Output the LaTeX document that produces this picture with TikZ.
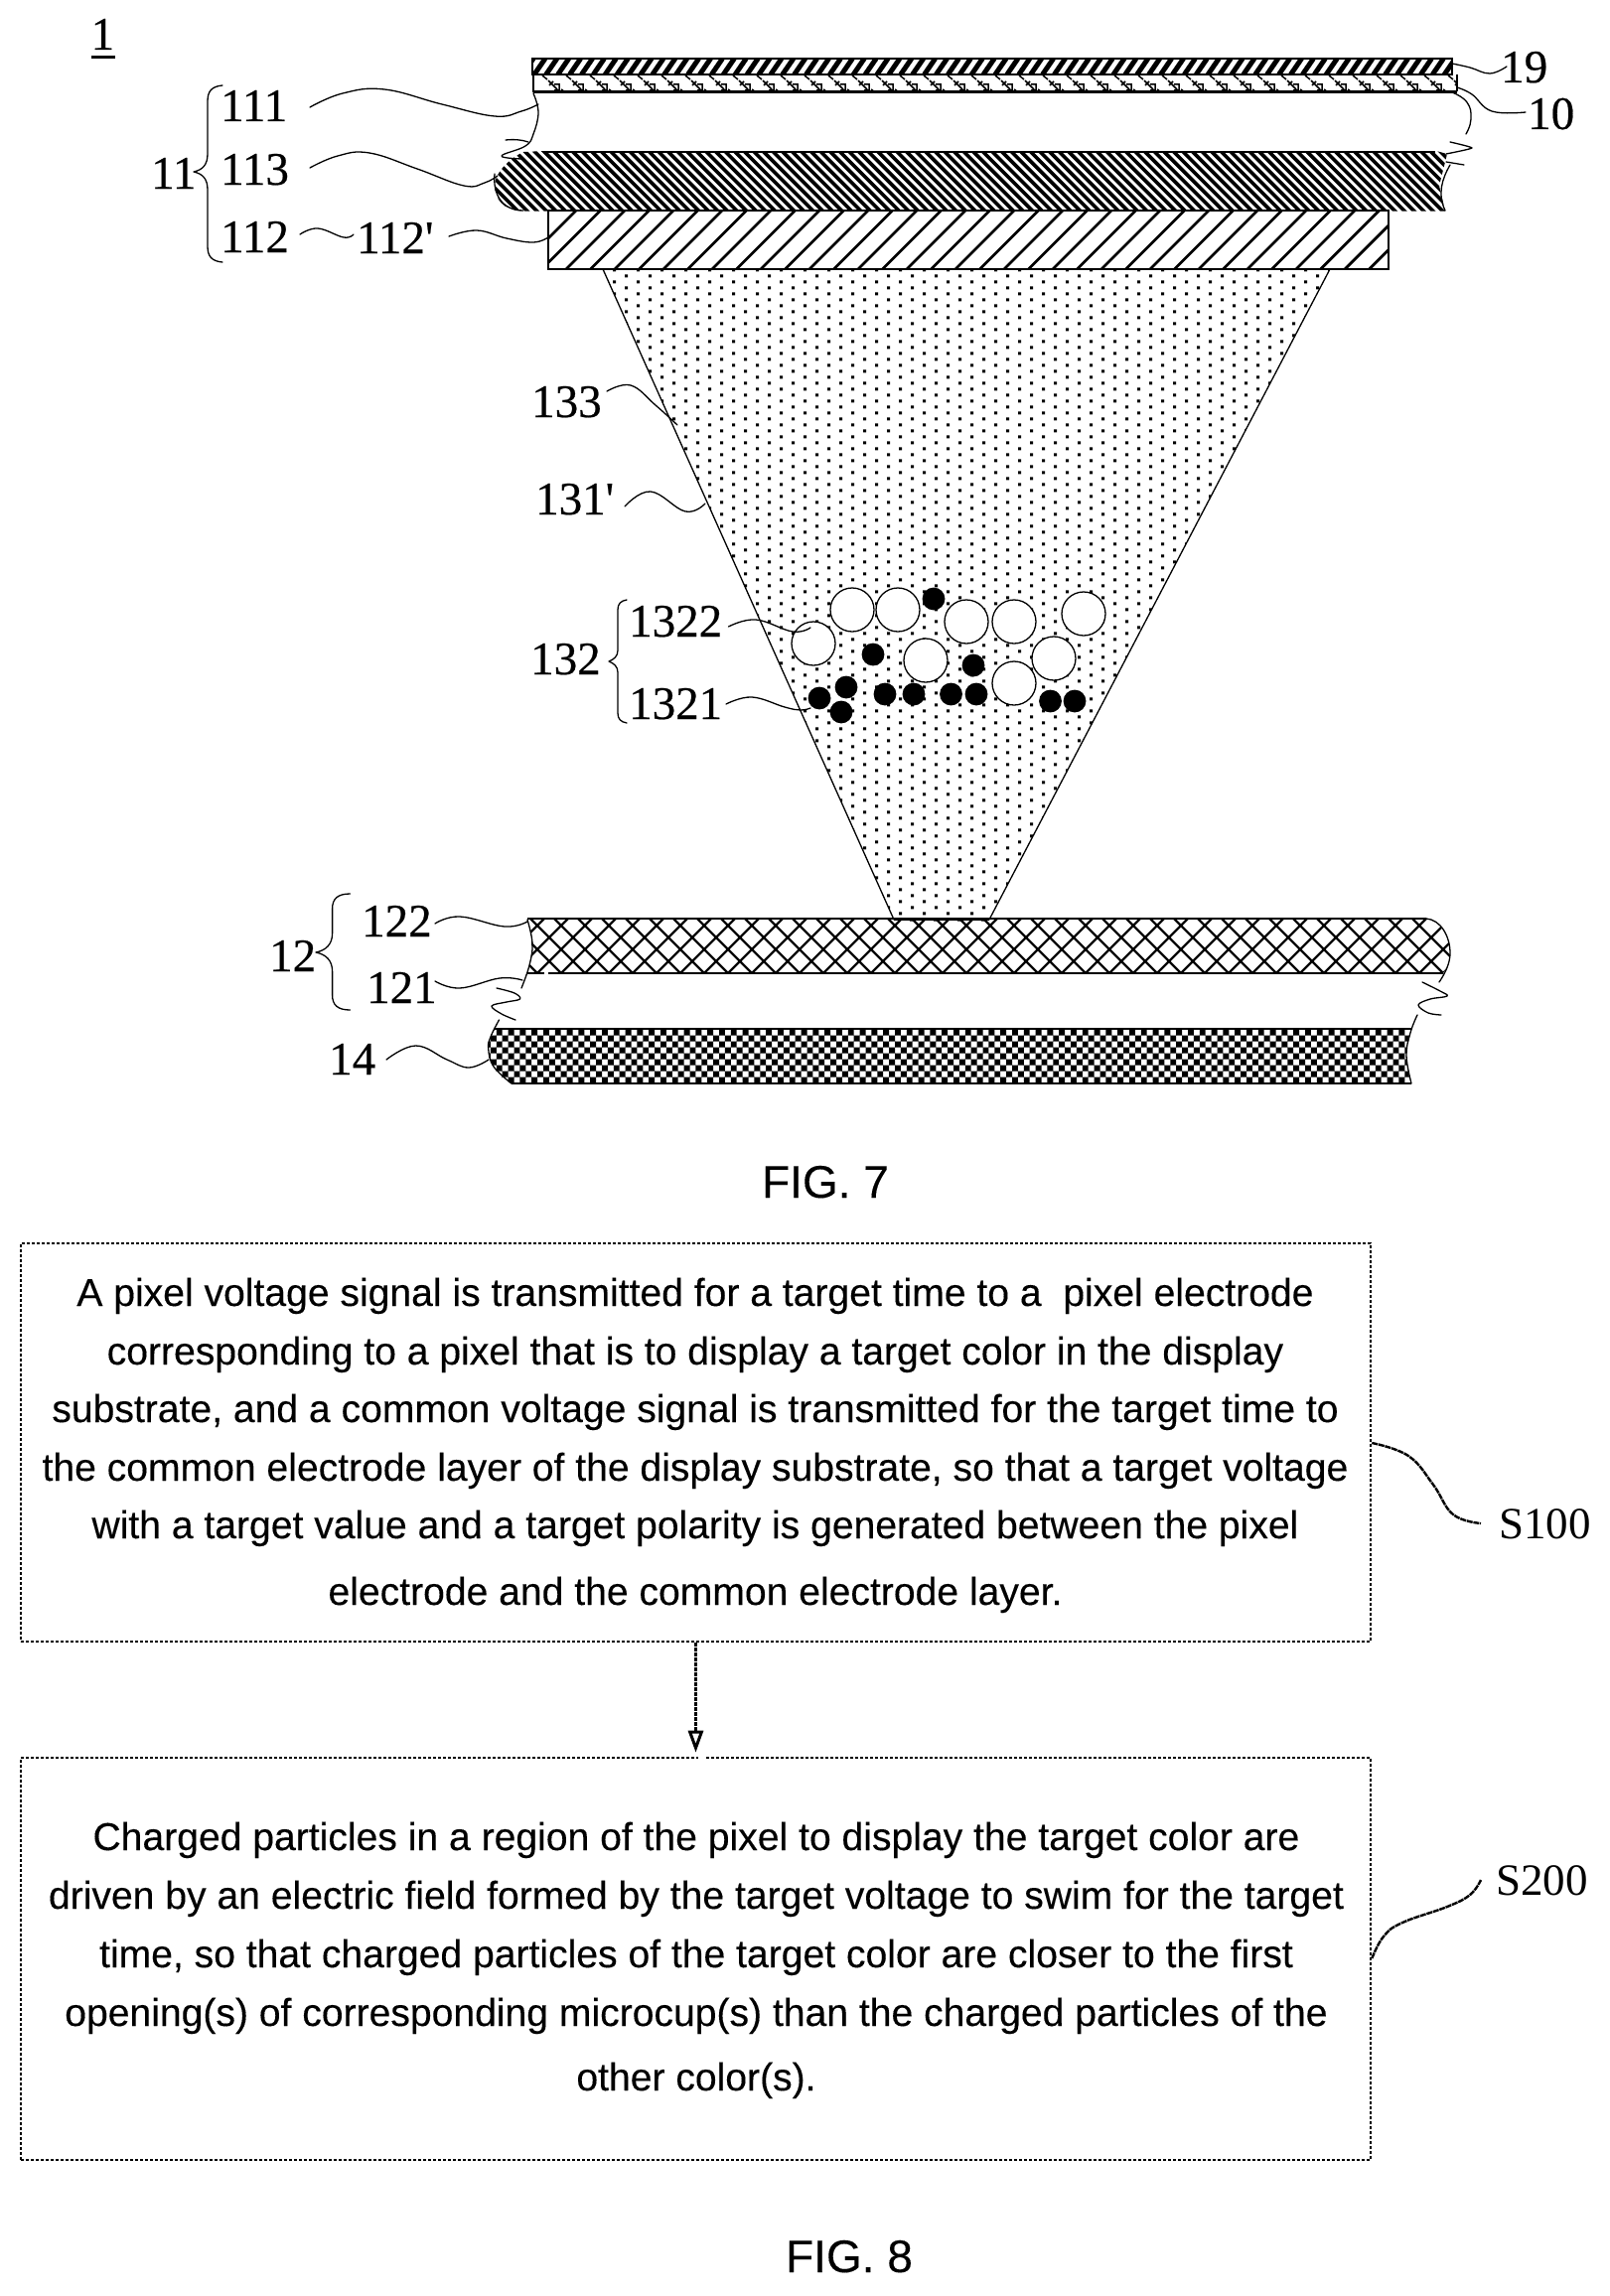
\documentclass[tikz,border=0pt]{standalone}
\usepackage{fontspec}
\usetikzlibrary{arrows.meta}
\newfontfamily\serifnum[AutoFakeBold=0.45]{Liberation Serif}
\newfontfamily\serifplain{Liberation Serif}
\newfontfamily\sanstxt[AutoFakeBold=0.2]{Liberation Sans}
\tikzset{
  num/.style={anchor=base west,inner sep=0pt,font=\serifnum\bfseries\fontsize{47}{47}\selectfont},
  snum/.style={anchor=base west,inner sep=0pt,font=\serifplain\fontsize{45}{45}\selectfont},
  body/.style={anchor=base,inner sep=0pt,font=\sanstxt\bfseries\fontsize{39.1}{40}\selectfont},
  figlab/.style={anchor=base,inner sep=0pt,font=\sanstxt\bfseries\fontsize{46}{46}\selectfont},
  thin line/.style={line width=1.3pt,line join=round,line cap=round},
  boxd/.style={draw,line width=2.6pt,dash pattern=on 3pt off 2pt,inner sep=0pt},
  sline/.style={line width=2.4pt,dash pattern=on 6pt off .8pt},
  lead/.style={thin line},
}
\begin{document}
\begin{tikzpicture}[x=1pt,y=-1pt]
\useasboundingbox (0,0) rectangle (1620,2312);
\fill[white] (0,0) rectangle (1620,2312);

% ---------- layer 19
\begin{scope}
\clip (536,59) rectangle (1462,75);
\draw[line width=5pt] foreach \k in {0,...,80} {({526+11.9*\k},75) -- ({537+11.9*\k},59)};
\end{scope}
\draw[line width=1.6pt] (536,59) rectangle (1462,75);

% ---------- layer 10
\begin{scope}
\clip (537,75) rectangle (1467,92);
\draw[line width=1.5pt] foreach \k in {0,...,38} {
  ({546+24*\k},76) -- ({551+24*\k},80)
  ({552+24*\k},81) -- ({561+24*\k},90)
  ({553+24*\k},86) -- ({557+24*\k},82)
  ({558+24*\k},85) -- ({563+24*\k},85) -- ({563+24*\k},91) -- ({558+24*\k},91)
  ({565+24*\k},90) -- ({567+24*\k},91)
};
\end{scope}
\draw[line width=1.2pt] (537,75) -- (537,93) (1467,75) -- (1467,92);
\draw[line width=2.6pt] (537,92.5) -- (1467,92.5);

% ---------- layer 111 edges
\draw[lead] plot[smooth,tension=.7] coordinates {(537,94) (542,113) (537,135) (529,147) (505,157) (526,160)};
\draw[lead] (509,141) .. controls (518,140) and (526,141) .. (532,143);
\draw[lead] plot[smooth,tension=.8] coordinates {(1462,93) (1477,103) (1481,120) (1476,135)};
\draw[lead] plot[smooth,tension=.3] coordinates {(1460,143) (1482,149) (1456,155)};
\draw[lead] (1456,163) -- (1474,166);

% ---------- layer 113
\begin{scope}
\clip (548,152) -- (1446,152) -- (1457,155) -- (1449,187) -- (1455,212.5) -- (527,212.5)
  .. controls (506,212) and (498,200) .. (498,186) .. controls (498,175) and (512,160) .. (527,153) -- cycle;
\draw[line width=3.6pt] foreach \k in {0,...,108} {({430+9.6*\k},150) -- ({495+9.6*\k},215)};
\end{scope}
\draw[line width=2.6pt] (548,153) -- (1445,153);
\draw[lead] (498,175) .. controls (496,195) and (505,212) .. (527,212);
\draw[lead] (1460,166) .. controls (1452,180) and (1447,195) .. (1455,212);

% ---------- layer 112
\begin{scope}
\clip (552,212) rectangle (1398,271);
\draw[line width=2.8pt] foreach \k in {0,...,38} {({500+24.5*\k},292) -- ({600+24.5*\k},192)};
\end{scope}
\draw[line width=1.5pt] (552,212) rectangle (1398,271);

% ---------- microcup
\begin{scope}
\clip (607,271) -- (1339,271) -- (996,926) -- (900,926) -- cycle;
\fill foreach \i in {1,...,109} { foreach \j in {0,...,31} {
  ({593+24*\j+12*mod(\i+1,2)},{922.8-6*(\i-1)-3+1.5-3}) rectangle +(3,3)}};
\end{scope}
\fill foreach \j in {0,...,3} {({915.8+24*\j},924.5) rectangle +(3,3)};
\draw[thin line] (607,271) -- (900,926) (1339,271) -- (996,926);
\draw[line width=1.5pt] (900,926) -- (996,926);

% ---------- particles
\foreach \p in {(858,614),(904,614),(973,626),(1021,626),(1091,618),(819,648),(932,665),(1061,663),(1021,688)}
  \draw[thin line,fill=white] \p circle (22);
\foreach \p in {(940,603),(879,659),(980,670),(852,692),(825,703),(847,717),(891,699),(920,699),(957.5,699),(983,699),(1057.5,706),(1082,706)}
  \fill \p circle (11.4);

% ---------- layer 122
\begin{scope}
\clip (531,925) -- (1436,925) .. controls (1450,926) and (1460,942) .. (1460,960) .. controls (1460,968) and (1457,975) .. (1453,980) -- (531,980) .. controls (536,965) and (537,945) .. cycle;
\draw[line width=2.2pt] foreach \k in {0,...,42} {
  ({437+24*\k},900) -- ({537+24*\k},1000)
  ({473+24*\k},1000) -- ({573+24*\k},900)
};
\end{scope}
\draw[line width=1.6pt] (531,925) -- (1436,925) (531,980) -- (548,980) (552,980) -- (1453,980);
\draw[lead] (1436,925) .. controls (1450,926) and (1460,942) .. (1460,960) .. controls (1460,970) and (1455,980) .. (1449,989);
\draw[lead] plot[smooth,tension=.7] coordinates {(531,926) (536,950) (533,972) (525,995)};
\draw[lead] plot[smooth,tension=.6] coordinates {(500,995) (518,1000) (523.5,1006) (510,1009) (495,1013) (505,1021) (519,1027)};
\draw[lead] plot[smooth,tension=.6] coordinates {(1432,989) (1450,998) (1457,1003) (1440,1006) (1428,1012) (1438,1020) (1451,1022)};

% ---------- layer 14
\begin{scope}
\clip (497,1036) -- (1421,1036) .. controls (1416,1055) and (1414,1072) .. (1421,1091) -- (515,1091) .. controls (500,1085) and (492,1070) .. (492,1055) .. controls (492,1046) and (495,1040) .. (497,1036) -- cycle;
\fill foreach \i in {0,...,9} { foreach \j in {0,...,81} {
  ({488+11.8*\j+5.9*mod(\i,2)},{1036.5+6*\i}) rectangle +(5.9,6)}};
\end{scope}
\draw[line width=1.4pt] (497,1036) -- (1421,1036);
\draw[lead] plot[smooth,tension=.7] coordinates {(502.5,1027) (494,1044) (491.7,1056) (497,1074) (515,1091)};
\draw[lead] plot[smooth,tension=.7] coordinates {(1427,1022) (1420,1040) (1416,1063) (1421,1091)};
\draw[line width=1.6pt] (515,1091) -- (1421,1091);

% ---------- leaders
\draw[lead] plot[smooth,tension=.7] coordinates {(312,108) (345,94) (387,90) (445,105) (498,117) (525,112) (542,105)};
\draw[lead] plot[smooth,tension=.7] coordinates {(312,169) (340,157) (372,154) (420,170) (467,187) (488,184) (501,177)};
\draw[lead] plot[smooth,tension=.7] coordinates {(302,236) (320,230) (346,239) (356,236)};
\draw[lead] plot[smooth,tension=.7] coordinates {(452,238) (480,232) (510,240) (537,244) (552,239)};
\draw[lead] plot[smooth,tension=.7] coordinates {(1462,64) (1480,68) (1500,74) (1517,67)};
\draw[lead] plot[smooth,tension=.7] coordinates {(1467,88) (1482,95) (1502,112) (1536,113)};
\draw[lead] plot[smooth,tension=.7] coordinates {(611,394) (635,388) (660,408) (682,428)};
\draw[lead] plot[smooth,tension=.7] coordinates {(629,510) (655,495) (690,515) (710,507)};
\draw[lead] plot[smooth,tension=.7] coordinates {(733.5,631) (761,624) (798,636) (816,632)};
\draw[lead] plot[smooth,tension=.7] coordinates {(731,709) (757,702) (790,712) (806,715) (816,713)};
\draw[lead] plot[smooth,tension=.7] coordinates {(438,930) (463,923) (508,933) (531,928)};
\draw[lead] plot[smooth,tension=.7] coordinates {(438,988) (463,995) (503,985) (526,987)};
\draw[lead] plot[smooth,tension=.7] coordinates {(389,1067) (418.6,1053) (450,1067) (472,1075) (492,1067)};

% ---------- braces
\draw[lead] (224,86) .. controls (213,87) and (209,92) .. (209,102) -- (209,155) .. controls (209,166) and (204,171) .. (195,173) .. controls (204,175) and (209,180) .. (209,191) -- (209,248) .. controls (209,258) and (213,263) .. (224,264);
\draw[lead] (631,604) .. controls (625,605) and (622,608) .. (622,614) -- (622,655) .. controls (622,661) and (618,664) .. (613,666) .. controls (618,668) and (622,671) .. (622,677) -- (622,718) .. controls (622,724) and (625,727) .. (631,728);
\draw[lead] (352.5,900) .. controls (340,900) and (334.6,905) .. (334.6,915) -- (334.6,940) .. controls (334.6,951) and (328,957) .. (318,959) .. controls (328,961) and (334.6,967) .. (334.6,978) -- (334.6,1002) .. controls (334.6,1012) and (340,1017) .. (352.5,1017);

% ---------- labels
\node[num] (l1) at (91.5,50) {1};
\draw[line width=3pt] (92,57.5) -- (116,57.5);
\node[num] (l111) at (222,122) {111};
\node[num] (l113) at (222,186) {113};
\node[num] (l112) at (222,254) {112};
\node[num] (l112p) at (359,255) {112'};
\node[num] (l11) at (152,190) {11};
\node[num] (l19) at (1511,83) {19};
\node[num] (l10) at (1538,130) {10};
\node[num] (l133) at (535,420) {133};
\node[num] (l131p) at (539,518) {131'};
\node[num] (l132) at (534,679) {132};
\node[num] (l1322) at (633,641) {1322};
\node[num] (l1321) at (633,724) {1321};
\node[num] (l12) at (271,978) {12};
\node[num] (l122) at (364,943) {122};
\node[num] (l121) at (369,1010) {121};
\node[num] (l14) at (331,1082) {14};

\node[figlab] (fig7) at (831,1206) {FIG. 7};
\node[figlab] (fig8) at (855,2288) {FIG. 8};

% ---------- flow boxes
\node[boxd,minimum width=1359pt,minimum height=401pt] (s1) at (700.5,1452.5) {};
\node[boxd,minimum width=1359pt,minimum height=405pt] (s2) at (700.5,1972.5) {};
\draw[line width=2.6pt,dash pattern=on 4pt off 1pt,-{Triangle[open,length=22pt,width=15pt,line width=3pt]},shorten >=4pt] (s1.south) -- (s2.north);
\fill[white] (703,1767) rectangle (711,1773);

\node[body] (t1) at (700,1315) {A pixel voltage signal is transmitted for a target time to a\ \ pixel electrode};
\node[body] (t2) at (700,1374) {corresponding to a pixel that is to display a target color in the display};
\node[body] (t3) at (700,1432) {substrate, and a common voltage signal is transmitted for the target time to};
\node[body] (t4) at (700,1491) {the common electrode layer of the display substrate, so that a target voltage};
\node[body] (t5) at (700,1549) {with a target value and a target polarity is generated between the pixel};
\node[body] (t6) at (700,1616) {electrode and the common electrode layer.};

\node[body] (u1) at (701,1863) {Charged particles in a region of the pixel to display the target color are};
\node[body] (u2) at (701,1922) {driven by an electric field formed by the target voltage to swim for the target};
\node[body] (u3) at (701,1981) {time, so that charged particles of the target color are closer to the first};
\node[body] (u4) at (701,2040) {opening(s) of corresponding microcup(s) than the charged particles of the};
\node[body] (u5) at (701,2105) {other color(s).};

\node[snum] (s100) at (1509,1549) {S100};
\node[snum] (s200) at (1506,1908) {S200};
\draw[sline] plot[smooth,tension=.7] coordinates {(s1.east |- 0,1453) (1418,1466) (1443,1495) (1463,1525) (1491,1534)};
\draw[sline] plot[smooth,tension=.7] coordinates {(s2.east |- 0,1972) (1393,1950) (1412,1936) (1457,1920) (1480,1908) (1491,1893)};
\end{tikzpicture}
\end{document}
